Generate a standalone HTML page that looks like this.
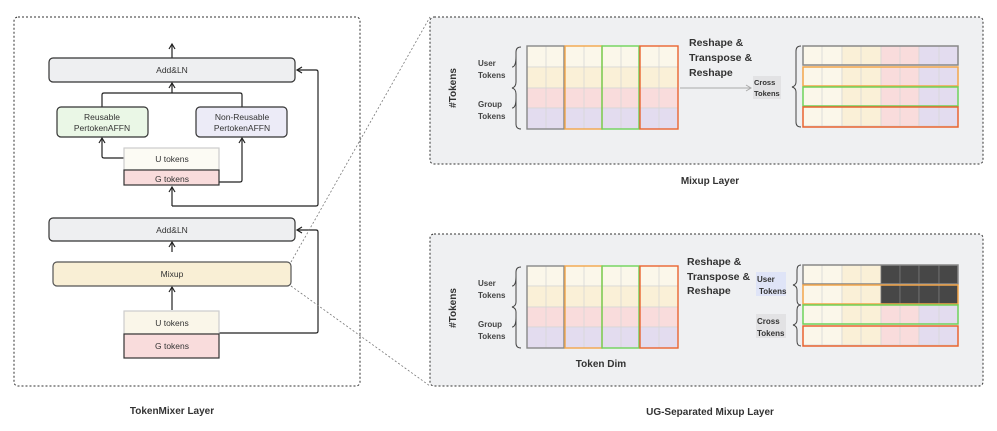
<!DOCTYPE html>
<html><head><meta charset="utf-8"><style>
html,body{margin:0;padding:0;background:#fff;}
svg{display:block;font-family:"Liberation Sans",sans-serif;}
</style></head><body>
<svg width="997" height="431" viewBox="0 0 997 431" xmlns="http://www.w3.org/2000/svg">
<defs>
<marker id="ah" markerWidth="8" markerHeight="8" refX="6" refY="4" orient="auto" markerUnits="userSpaceOnUse">
<path d="M1,1 L6,4 L1,7" fill="none" stroke="#222" stroke-width="1.2"/></marker>
<marker id="ahg" markerWidth="8" markerHeight="8" refX="6" refY="4" orient="auto" markerUnits="userSpaceOnUse">
<path d="M1,1 L6,4 L1,7" fill="none" stroke="#aaa" stroke-width="1"/></marker>
</defs>

<rect x="14" y="17" width="346" height="369" rx="4" fill="#fff" stroke="#333" stroke-width="1" stroke-dasharray="2,2"/>
<g stroke="#222" stroke-width="1.2" fill="none">
<line x1="172" y1="58" x2="172" y2="44" marker-end="url(#ah)"/>
<path d="M102,107 V95 Q102,93 104,93 H240 Q242,93 242,95 V107"/>
<line x1="172" y1="93" x2="172" y2="83" marker-end="url(#ah)"/>
<path d="M124,158 H104 Q102,158 102,156 V138" marker-end="url(#ah)"/>
<path d="M219,182 H240 Q242,182 242,180 V138" marker-end="url(#ah)"/>
<line x1="172" y1="206" x2="172" y2="187" marker-end="url(#ah)"/>
<path d="M172,206 H316 Q318,206 318,204 V72 Q318,70 316,70 H297" marker-end="url(#ah)"/>
<line x1="172" y1="252" x2="172" y2="242" marker-end="url(#ah)"/>
<line x1="172" y1="310" x2="172" y2="287" marker-end="url(#ah)"/>
<path d="M219,333 H316 Q318,333 318,331 V232 Q318,230 316,230 H297" marker-end="url(#ah)"/>
</g>
<g stroke="#333" stroke-width="1.2">
<rect x="49" y="58" width="246" height="24" rx="4" fill="#eeeff1"/>
<rect x="57" y="107" width="91" height="30" rx="4" fill="#eaf7e6"/>
<rect x="196" y="107" width="91" height="30" rx="4" fill="#ecebf7"/>
<rect x="124" y="148" width="95" height="22" fill="#fcfbf4" stroke="#ccc"/>
<rect x="124" y="170" width="95" height="15" fill="#f9dcdc"/>
<rect x="49" y="218" width="246" height="23" rx="4" fill="#eeeff1"/>
<rect x="53" y="262" width="238" height="24" rx="4" fill="#f9efd5" stroke="#555"/>
<rect x="124" y="311" width="95" height="23" fill="#faf6e9" stroke="#ccc"/>
<rect x="124" y="334" width="95" height="24" fill="#f9dcdc"/>
</g>
<g font-size="8.5" fill="#333" text-anchor="middle">
<text x="172" y="73">Add&amp;LN</text>
<text x="102" y="120">Reusable</text><text x="102" y="131">PertokenAFFN</text>
<text x="242" y="120">Non-Reusable</text><text x="242" y="131">PertokenAFFN</text>
<text x="172" y="162">U tokens</text>
<text x="172" y="182">G tokens</text>
<text x="172" y="233">Add&amp;LN</text>
<text x="172" y="277">Mixup</text>
<text x="172" y="326">U tokens</text>
<text x="172" y="349">G tokens</text>
</g>
<text x="172" y="414" font-size="10" font-weight="bold" fill="#333" text-anchor="middle">TokenMixer Layer</text>

<line x1="291" y1="262" x2="430" y2="17" stroke="#777" stroke-width="0.8" stroke-dasharray="2,2"/>
<line x1="291" y1="286" x2="430" y2="386" stroke="#777" stroke-width="0.8" stroke-dasharray="2,2"/>

<rect x="430" y="17" width="553" height="147" rx="4" fill="#eff0f2" stroke="#333" stroke-width="1" stroke-dasharray="2,2"/>
<text x="710" y="184" font-size="10" font-weight="bold" fill="#333" text-anchor="middle">Mixup Layer</text>

<rect x="430" y="234" width="553" height="152" rx="4" fill="#eff0f2" stroke="#333" stroke-width="1" stroke-dasharray="2,2"/>
<text x="710" y="415" font-size="10" font-weight="bold" fill="#333" text-anchor="middle">UG-Separated Mixup Layer</text>

<g stroke="#d6d6d6" stroke-width="0.8">
<rect x="527" y="46" width="151" height="21" fill="#fbf7ea"/>
<rect x="527" y="67" width="151" height="21" fill="#faf0d7"/>
<rect x="527" y="88" width="151" height="20" fill="#f9dcdc"/>
<rect x="527" y="108" width="151" height="21" fill="#e3dcef"/>
<path d="M546,46V129 M584,46V129 M621,46V129 M659,46V129" fill="none"/>
</g>
<g fill="none" stroke-width="1.4">
<rect x="527" y="46" width="37" height="83" stroke="#888"/>
<rect x="565" y="46" width="37" height="83" stroke="#f3a64a"/>
<rect x="602" y="46" width="37" height="83" stroke="#6fd35a"/>
<rect x="640" y="46" width="38" height="83" stroke="#ea6430"/>
</g>
<g stroke="#d6d6d6" stroke-width="0.8">
<rect x="527" y="266" width="151" height="20" fill="#fbf7ea"/>
<rect x="527" y="286" width="151" height="21" fill="#faf0d7"/>
<rect x="527" y="307" width="151" height="20" fill="#f9dcdc"/>
<rect x="527" y="327" width="151" height="21" fill="#e3dcef"/>
<path d="M546,266V348 M584,266V348 M621,266V348 M659,266V348" fill="none"/>
</g>
<g fill="none" stroke-width="1.4">
<rect x="527" y="266" width="37" height="82" stroke="#888"/>
<rect x="565" y="266" width="37" height="82" stroke="#f3a64a"/>
<rect x="602" y="266" width="37" height="82" stroke="#6fd35a"/>
<rect x="640" y="266" width="38" height="82" stroke="#ea6430"/>
</g>

<g fill="none" stroke="#444" stroke-width="1">
<path d="M521,47 Q516,47 516,52 V82 Q516,87 512,88 Q516,89 516,94 V124 Q516,129 521,129" />
<path d="M521,267 Q516,267 516,272 V302 Q516,306 512,307 Q516,308 516,312 V343 Q516,348 521,348"/>
<path d="M516,56 Q516,67 512,67" /><path d="M516,98 Q516,108 512,108"/>
<path d="M516,276 Q516,286 512,286" /><path d="M516,317 Q516,327 512,327"/>
</g>
<g font-size="8" font-weight="bold" fill="#444">
<text x="478" y="66">User</text><text x="478" y="78">Tokens</text>
<text x="478" y="107">Group</text><text x="478" y="119">Tokens</text>
<text x="478" y="286">User</text><text x="478" y="298">Tokens</text>
<text x="478" y="327">Group</text><text x="478" y="339">Tokens</text>
</g>
<text transform="translate(456,88) rotate(-90)" font-size="10" font-weight="bold" fill="#333" text-anchor="middle">#Tokens</text>
<text transform="translate(456,308) rotate(-90)" font-size="10" font-weight="bold" fill="#333" text-anchor="middle">#Tokens</text>
<text x="601" y="367" font-size="10" font-weight="bold" fill="#333" text-anchor="middle">Token Dim</text>

<g font-size="10.5" font-weight="bold" fill="#333">
<text x="689" y="46">Reshape &amp;</text><text x="689" y="61">Transpose &amp;</text><text x="689" y="76">Reshape</text>
<text x="687" y="265">Reshape &amp;</text><text x="687" y="280">Transpose &amp;</text><text x="687" y="294">Reshape</text>
</g>
<line x1="680" y1="88" x2="751" y2="88" stroke="#aaa" stroke-width="1" marker-end="url(#ahg)"/>
<rect x="753" y="76" width="28" height="23" fill="#e2e2e4"/>
<g font-size="7.5" font-weight="bold" fill="#333">
<text x="754" y="85">Cross</text><text x="754" y="96">Tokens</text>
</g>

<g stroke="#d6d6d6" stroke-width="0.8">
<g id="rowA">
<rect x="803" y="46" width="39" height="19" fill="#fbf7ea"/>
<rect x="842" y="46" width="39" height="19" fill="#faf0d7"/>
<rect x="881" y="46" width="38" height="19" fill="#f9dcdc"/>
<rect x="919" y="46" width="39" height="19" fill="#e3dcef"/>
<path d="M822,46v19 M861,46v19 M900,46v19 M939,46v19" fill="none"/>
</g>
<use href="#rowA" y="21"/><use href="#rowA" y="41"/><use href="#rowA" y="61"/>
</g>
<g fill="none" stroke-width="1.5">
<rect x="803" y="46" width="155" height="19" stroke="#888"/>
<rect x="803" y="67" width="155" height="19" stroke="#f3a64a"/>
<rect x="803" y="87" width="155" height="19" stroke="#6fd35a"/>
<rect x="803" y="107" width="155" height="20" stroke="#ea6430"/>
</g>
<path d="M801,46 Q796,46 796,51 V82 Q796,86 792,87 Q796,88 796,92 V122 Q796,127 801,127" fill="none" stroke="#444" stroke-width="1"/>

<g stroke="#d6d6d6" stroke-width="0.8">
<use href="#rowA" y="219"/><use href="#rowA" y="239"/><use href="#rowA" y="259"/><use href="#rowA" y="280"/>
</g>
<g fill="#474747" stroke="#777" stroke-width="0.8">
<rect x="881" y="265" width="19" height="19"/><rect x="900" y="265" width="19" height="19"/><rect x="919" y="265" width="20" height="19"/><rect x="939" y="265" width="19" height="19"/>
<rect x="881" y="285" width="19" height="19"/><rect x="900" y="285" width="19" height="19"/><rect x="919" y="285" width="20" height="19"/><rect x="939" y="285" width="19" height="19"/>
</g>
<g fill="none" stroke-width="1.5">
<rect x="803" y="265" width="155" height="19" stroke="#888"/>
<rect x="803" y="285" width="155" height="19" stroke="#f3a64a"/>
<rect x="803" y="305" width="155" height="19" stroke="#6fd35a"/>
<rect x="803" y="326" width="155" height="20" stroke="#ea6430"/>
</g>
<g fill="none" stroke="#444" stroke-width="1">
<path d="M801,265 Q797,265 797,270 V280 Q797,284 793,285 Q797,286 797,290 V300 Q797,305 801,305"/>
<path d="M801,305 Q797,305 797,310 V320 Q797,324 793,325 Q797,326 797,330 V341 Q797,346 801,346"/>
</g>
<rect x="756" y="272" width="30" height="24" fill="#dfe4f7"/>
<rect x="756" y="314" width="30" height="24" fill="#e2e2e4"/>
<g font-size="8" font-weight="bold" fill="#333">
<text x="757" y="282">User</text><text x="759" y="294">Tokens</text>
<text x="757" y="324">Cross</text><text x="757" y="336">Tokens</text>
</g>
</svg>
</body></html>
